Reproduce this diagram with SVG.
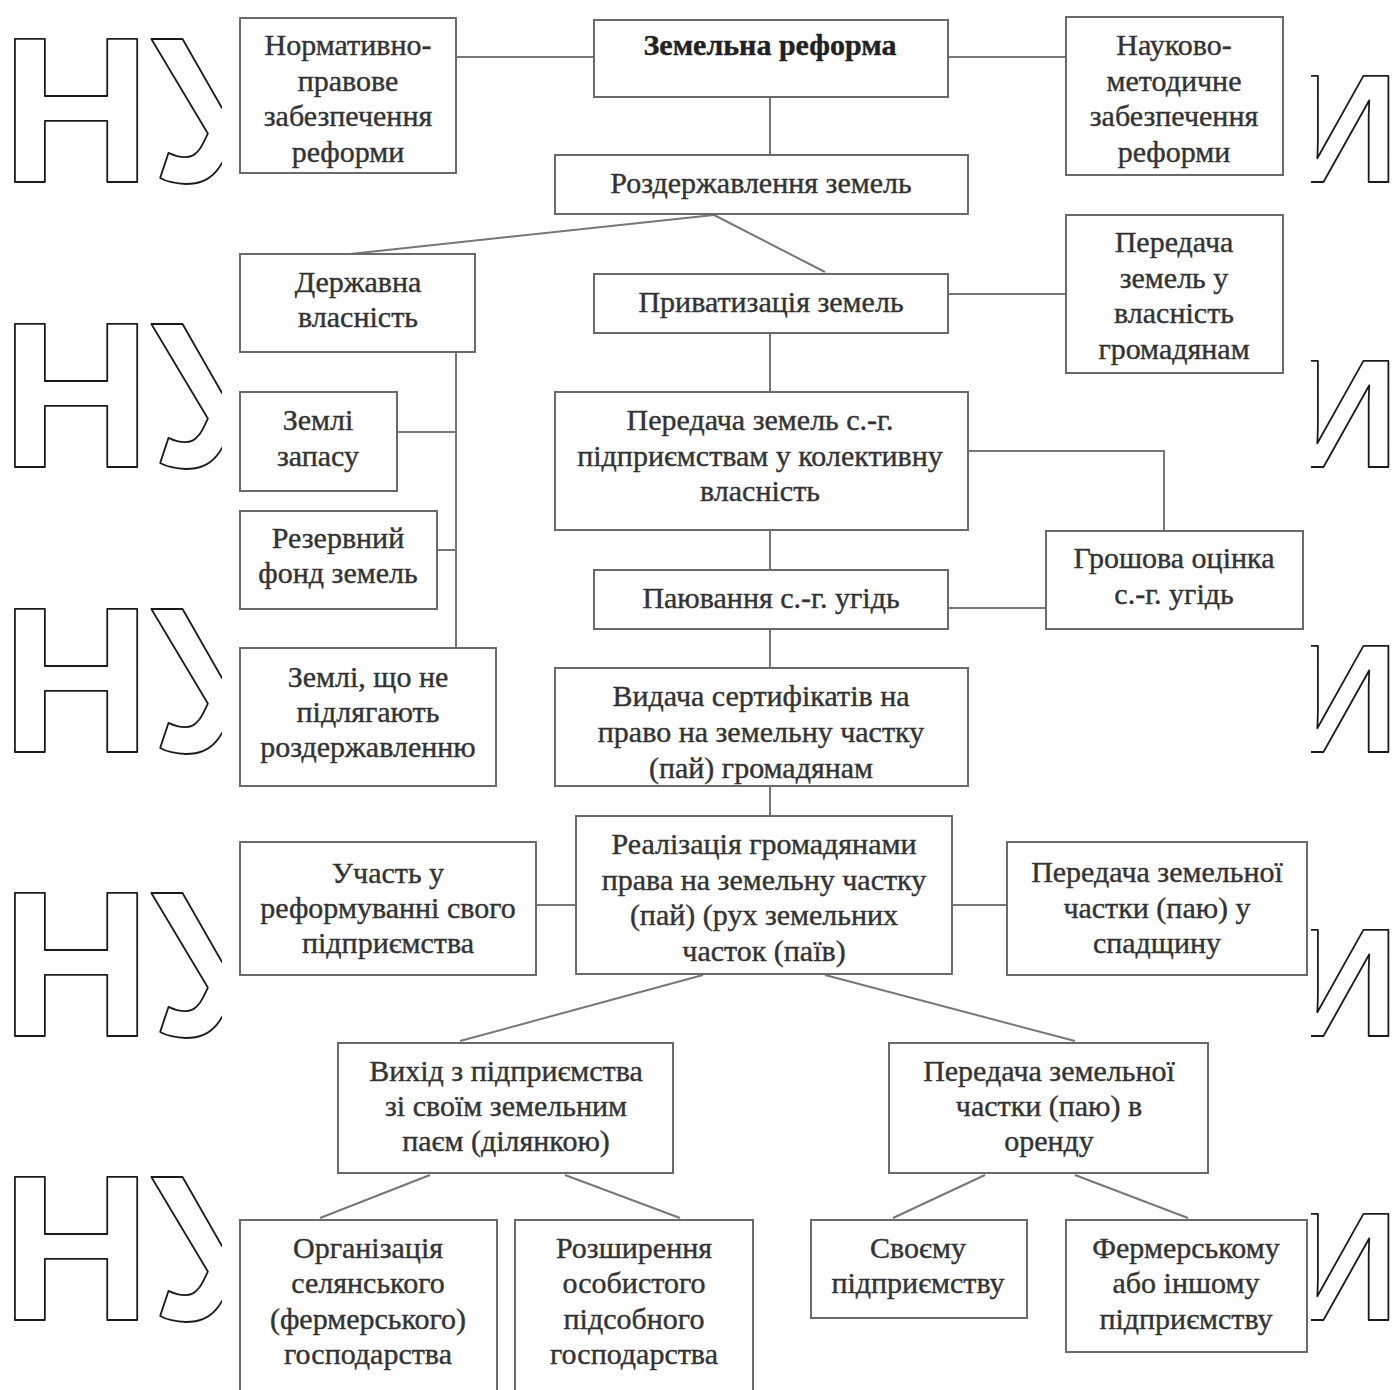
<svg xmlns="http://www.w3.org/2000/svg" width="1393" height="1390" viewBox="0 0 1393 1390">
<style>
.box{fill:#fff;stroke:#6a6a6a;stroke-width:2}
.t{font-family:"Liberation Serif","Times New Roman",serif;font-size:30px;fill:#333;stroke:#333;stroke-width:0.4;text-anchor:middle}
.b{font-weight:bold;fill:#222;stroke:#222}
.c{stroke:#777;stroke-width:2;fill:none}
.wm{font-family:"Liberation Sans",Arial,sans-serif;font-weight:bold;fill:#fff;stroke:#1a1a1a;stroke-width:1.8;stroke-linejoin:round}
.wl{font-size:208px}
.wr{font-size:154px}
</style>
<defs>
<clipPath id="cl"><rect x="0" y="0" width="222" height="1390"/></clipPath>
<clipPath id="cr"><rect x="1311" y="0" width="82" height="1390"/></clipPath>
</defs>
<rect x="0" y="0" width="1393" height="1390" fill="#fff"/>
<g id="watermark" clip-path="url(#cl)">
<text class="wm wl" x="1" y="182">НУ</text>
<text class="wm wl" x="1" y="467">НУ</text>
<text class="wm wl" x="1" y="752">НУ</text>
<text class="wm wl" x="1" y="1036">НУ</text>
<text class="wm wl" x="1" y="1320">НУ</text>
</g>
<g id="watermark-right" clip-path="url(#cr)">
<text class="wm wr" x="1288" y="182">И</text>
<text class="wm wr" x="1288" y="467">И</text>
<text class="wm wr" x="1288" y="752">И</text>
<text class="wm wr" x="1288" y="1036">И</text>
<text class="wm wr" x="1288" y="1320">И</text>
</g>
<g id="connectors">
<line class="c" x1="456" y1="57" x2="594" y2="57"/>
<line class="c" x1="948" y1="57" x2="1066" y2="57"/>
<line class="c" x1="770" y1="97" x2="770" y2="155"/>
<line class="c" x1="714" y1="215" x2="350" y2="254"/>
<line class="c" x1="714" y1="215" x2="825" y2="272"/>
<line class="c" x1="948" y1="294" x2="1066" y2="294"/>
<line class="c" x1="770" y1="333" x2="770" y2="392"/>
<line class="c" x1="456" y1="352" x2="456" y2="648"/>
<line class="c" x1="397" y1="432" x2="456" y2="432"/>
<line class="c" x1="437" y1="550" x2="456" y2="550"/>
<polyline class="c" points="968,451 1164,451 1164,531"/>
<line class="c" x1="770" y1="530" x2="770" y2="570"/>
<line class="c" x1="948" y1="608" x2="1046" y2="608"/>
<line class="c" x1="770" y1="629" x2="770" y2="668"/>
<line class="c" x1="770" y1="786" x2="770" y2="816"/>
<line class="c" x1="536" y1="905" x2="576" y2="905"/>
<line class="c" x1="952" y1="905" x2="1007" y2="905"/>
<line class="c" x1="703" y1="975" x2="460" y2="1041"/>
<line class="c" x1="825" y1="975" x2="1075" y2="1041"/>
<line class="c" x1="430" y1="1175" x2="320" y2="1218"/>
<line class="c" x1="565" y1="1175" x2="680" y2="1218"/>
<line class="c" x1="985" y1="1175" x2="893" y2="1218"/>
<line class="c" x1="1075" y1="1175" x2="1188" y2="1218"/>
</g>
<g id="n1"><rect class="box" x="240" y="18" width="216" height="155"/><text class="t"><tspan x="348" y="55">Нормативно-</tspan><tspan x="348" y="91">правове</tspan><tspan x="348" y="126">забезпечення</tspan><tspan x="348" y="162">реформи</tspan></text></g>
<g id="n2"><rect class="box" x="594" y="20" width="354" height="77"/><text class="t b" x="770" y="55">Земельна реформа</text></g>
<g id="n3"><rect class="box" x="1066" y="17" width="217" height="158"/><text class="t"><tspan x="1174" y="55">Науково-</tspan><tspan x="1174" y="91">методичне</tspan><tspan x="1174" y="126">забезпечення</tspan><tspan x="1174" y="162">реформи</tspan></text></g>
<g id="n4"><rect class="box" x="555" y="155" width="413" height="59"/><text class="t" x="761" y="193">Роздержавлення земель</text></g>
<g id="n5"><rect class="box" x="240" y="254" width="235" height="98"/><text class="t"><tspan x="358" y="292">Державна</tspan><tspan x="358" y="327">власність</tspan></text></g>
<g id="n6"><rect class="box" x="594" y="274" width="354" height="59"/><text class="t" x="771" y="312">Приватизація земель</text></g>
<g id="n7"><rect class="box" x="1066" y="215" width="217" height="158"/><text class="t"><tspan x="1174" y="252">Передача</tspan><tspan x="1174" y="288">земель у</tspan><tspan x="1174" y="323">власність</tspan><tspan x="1174" y="359">громадянам</tspan></text></g>
<g id="n8"><rect class="box" x="240" y="392" width="157" height="99"/><text class="t"><tspan x="318" y="430">Землі</tspan><tspan x="318" y="466">запасу</tspan></text></g>
<g id="n9"><rect class="box" x="555" y="392" width="413" height="138"/><text class="t"><tspan x="760" y="430">Передача земель с.-г.</tspan><tspan x="760" y="466">підприємствам у колективну</tspan><tspan x="760" y="501">власність</tspan></text></g>
<g id="n10"><rect class="box" x="240" y="511" width="197" height="98"/><text class="t"><tspan x="338" y="548">Резервний</tspan><tspan x="338" y="583">фонд земель</tspan></text></g>
<g id="n11"><rect class="box" x="1046" y="531" width="257" height="98"/><text class="t"><tspan x="1174" y="568">Грошова оцінка</tspan><tspan x="1174" y="604">с.-г. угідь</tspan></text></g>
<g id="n12"><rect class="box" x="594" y="570" width="354" height="59"/><text class="t" x="771" y="608">Паювання с.-г. угідь</text></g>
<g id="n13"><rect class="box" x="240" y="648" width="256" height="138"/><text class="t"><tspan x="368" y="687">Землі, що не</tspan><tspan x="368" y="722">підлягають</tspan><tspan x="368" y="757">роздержавленню</tspan></text></g>
<g id="n14"><rect class="box" x="555" y="668" width="413" height="118"/><text class="t"><tspan x="761" y="706">Видача сертифікатів на</tspan><tspan x="761" y="742">право на земельну частку</tspan><tspan x="761" y="778">(пай) громадянам</tspan></text></g>
<g id="n15"><rect class="box" x="576" y="816" width="376" height="158"/><text class="t"><tspan x="764" y="854">Реалізація громадянами</tspan><tspan x="764" y="890">права на земельну частку</tspan><tspan x="764" y="925">(пай) (рух земельних</tspan><tspan x="764" y="961">часток (паїв)</tspan></text></g>
<g id="n16"><rect class="box" x="240" y="842" width="296" height="133"/><text class="t"><tspan x="388" y="883">Участь у</tspan><tspan x="388" y="918">реформуванні свого</tspan><tspan x="388" y="953">підприємства</tspan></text></g>
<g id="n17"><rect class="box" x="1007" y="842" width="300" height="133"/><text class="t"><tspan x="1157" y="882">Передача земельної</tspan><tspan x="1157" y="918">частки (паю) у</tspan><tspan x="1157" y="953">спадщину</tspan></text></g>
<g id="n18"><rect class="box" x="338" y="1043" width="335" height="130"/><text class="t"><tspan x="506" y="1081">Вихід з підприємства</tspan><tspan x="506" y="1116">зі своїм земельним</tspan><tspan x="506" y="1151">паєм (ділянкою)</tspan></text></g>
<g id="n19"><rect class="box" x="889" y="1043" width="319" height="130"/><text class="t"><tspan x="1049" y="1081">Передача земельної</tspan><tspan x="1049" y="1116">частки (паю) в</tspan><tspan x="1049" y="1151">оренду</tspan></text></g>
<g id="n20"><rect class="box" x="240" y="1220" width="257" height="180"/><text class="t"><tspan x="368" y="1258">Організація</tspan><tspan x="368" y="1293">селянського</tspan><tspan x="368" y="1329">(фермерського)</tspan><tspan x="368" y="1364">господарства</tspan></text></g>
<g id="n21"><rect class="box" x="515" y="1220" width="238" height="180"/><text class="t"><tspan x="634" y="1258">Розширення</tspan><tspan x="634" y="1293">особистого</tspan><tspan x="634" y="1329">підсобного</tspan><tspan x="634" y="1364">господарства</tspan></text></g>
<g id="n22"><rect class="box" x="811" y="1220" width="216" height="98"/><text class="t"><tspan x="918" y="1258">Своєму</tspan><tspan x="918" y="1293">підприємству</tspan></text></g>
<g id="n23"><rect class="box" x="1066" y="1220" width="241" height="132"/><text class="t"><tspan x="1186" y="1258">Фермерському</tspan><tspan x="1186" y="1293">або іншому</tspan><tspan x="1186" y="1329">підприємству</tspan></text></g>
</svg>
